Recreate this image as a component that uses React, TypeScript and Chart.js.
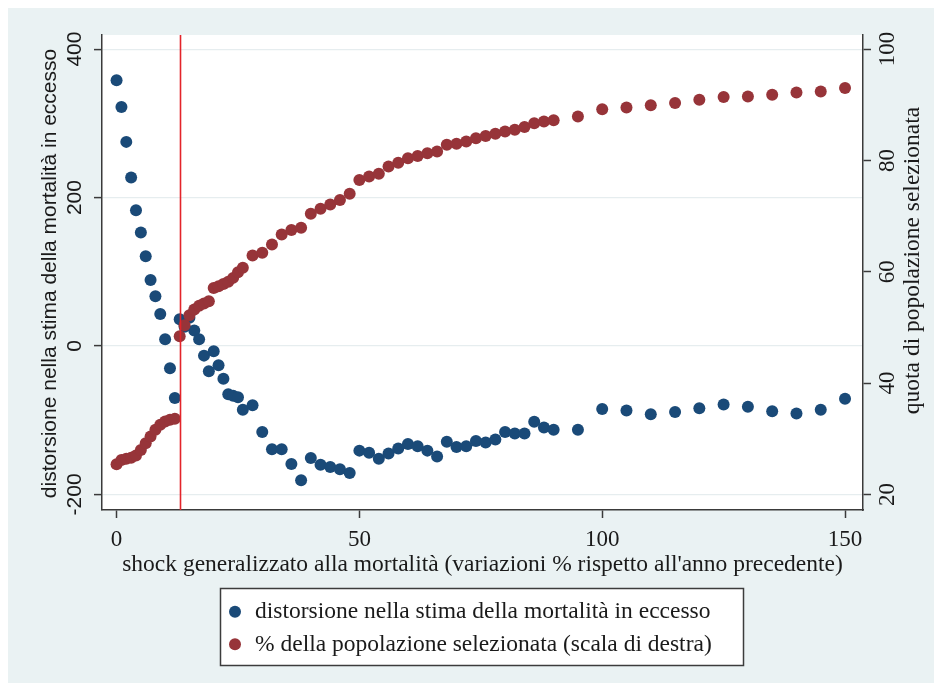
import React, { useEffect, useRef } from "react";
import { Chart, registerables } from "chart.js";

Chart.register(...registerables);

// ---------- data ----------
const shockValues = [
  0, 1, 2, 3, 4, 5, 6, 7, 8, 9, 10, 11, 12, 13, 14, 15, 16, 17, 18, 19, 20, 21, 22, 23, 24, 25, 26,
  28, 30, 32, 34, 36, 38, 40, 42, 44, 46, 48, 50, 52, 54, 56, 58, 60, 62, 64, 66, 68, 70, 72, 74, 76, 78, 80, 82, 84, 86, 88, 90,
  95, 100, 105, 110, 115, 120, 125, 130, 135, 140, 145, 150,
];

const distortionValues = [
  358, 322, 275, 227, 183, 153, 121, 89, 67, 43, 9, -30, -70, 36, 26, 38, 21, 9, -13, -34, -7, -26, -44, -65, -67, -69, -86,
  -80, -116, -139, -139, -159, -181, -151, -160, -163, -166, -171, -141, -144, -152, -145, -138, -132, -135, -141, -149, -129, -136, -135, -128, -130, -126, -116, -118, -118, -102, -110, -113,
  -113, -85, -87, -92, -89, -84, -79, -82, -88, -91, -86, -71,
];

const selectedShareValues = [
  25.4, 26.2, 26.4, 26.6, 27.0, 28.0, 29.2, 30.4, 31.6, 32.5, 33.1, 33.4, 33.6, 48.4, 50.4, 52.2, 53.2, 53.9, 54.3, 54.7, 57.1, 57.4, 57.8, 58.2, 58.9, 59.9, 60.7,
  62.9, 63.4, 64.9, 66.7, 67.5, 67.9, 70.4, 71.3, 72.1, 72.9, 74.0, 76.5, 77.1, 77.6, 78.9, 79.6, 80.4, 80.8, 81.3, 81.6, 82.8, 83.0, 83.4, 84.0, 84.4, 84.8, 85.2, 85.5, 86.0, 86.7, 87.0, 87.2,
  87.9, 89.2, 89.5, 89.9, 90.3, 90.9, 91.4, 91.5, 91.8, 92.2, 92.4, 93.0,
];

const xTicks = [0, 50, 100, 150];
const leftTicks = [-200, 0, 200, 400];
const rightTicks = [20, 40, 60, 80, 100];
const thresholdShock = 13;

const seriesLabels = [
  "distorsione nella stima della mortalità in eccesso",
  "% della popolazione selezionata (scala di destra)",
];
const xTitle = "shock generalizzato alla mortalità (variazioni % rispetto all'anno precedente)";
const leftTitle = "distorsione nella stima della mortalità in eccesso";
const rightTitle = "quota di popolazione selezionata";

// ---------- style ----------
const W = 926;
const H = 675;
const BG = "#eaf2f3";
const AXIS = "#3a3a3a";
const GRID = "#e6edef";
const BLUE = "#1a4a78";
const RED = "#973439";
const VLINE = "#e3242a";
const SERIF = '"Liberation Serif", "Times New Roman", serif';
const SANS = '"Liberation Sans", Arial, sans-serif';

const X_MIN = -3;
const X_MAX = 153.7;
const L_MIN = -221;
const L_MAX = 419;
const R_MIN = 20 + ((L_MIN + 200) * 80) / 600;
const R_MAX = 20 + ((L_MAX + 200) * 80) / 600;

const decorPlugin = {
  id: "decor",
  beforeDraw(chart: any) {
    const { ctx, chartArea: ca, width, height } = chart;
    ctx.save();
    ctx.fillStyle = BG;
    ctx.fillRect(0, 0, width, height);
    ctx.fillStyle = "#ffffff";
    ctx.fillRect(ca.left, ca.top, ca.right - ca.left, ca.bottom - ca.top);
    ctx.restore();
  },
  afterDatasetsDraw(chart: any) {
    const { ctx, chartArea: ca } = chart;
    const x = Math.round(chart.scales.x.getPixelForValue(thresholdShock)) + 0.5;
    ctx.save();
    ctx.strokeStyle = VLINE;
    ctx.lineWidth = 1.6;
    ctx.beginPath();
    ctx.moveTo(x, ca.top);
    ctx.lineTo(x, ca.bottom);
    ctx.stroke();
    ctx.restore();
  },
  afterDraw(chart: any) {
    const { ctx, chartArea: ca } = chart;
    const sx = chart.scales.x;
    const sy = chart.scales.y;
    const sy1 = chart.scales.y1;
    ctx.save();
    ctx.fillStyle = "#1a1a1a";

    // left tick labels (rotated, sans)
    ctx.font = `21px ${SANS}`;
    ctx.textAlign = "center";
    ctx.textBaseline = "middle";
    sy.ticks.forEach((t: any) => {
      const y = sy.getPixelForValue(t.value);
      ctx.save();
      ctx.translate(ca.left - 26.5, y);
      ctx.rotate(-Math.PI / 2);
      ctx.fillText(String(t.value), 0, 0);
      ctx.restore();
    });

    // left title
    ctx.save();
    ctx.translate(42.5, (ca.top + ca.bottom) / 2 + 1);
    ctx.rotate(-Math.PI / 2);
    ctx.fillText(leftTitle, 0, 0);
    ctx.restore();

    // right tick labels (rotated, serif)
    ctx.font = `23px ${SERIF}`;
    sy1.ticks.forEach((t: any) => {
      const y = sy1.getPixelForValue(t.value);
      ctx.save();
      ctx.translate(ca.right + 25, y);
      ctx.rotate(-Math.PI / 2);
      ctx.fillText(String(t.value), 0, 0);
      ctx.restore();
    });

    // right title
    ctx.font = `23.5px ${SERIF}`;
    ctx.save();
    ctx.translate(ca.right + 49.5, (ca.top + ca.bottom) / 2 - 12);
    ctx.rotate(-Math.PI / 2);
    ctx.fillText(rightTitle, 0, 0);
    ctx.restore();

    // x tick labels
    ctx.font = `23px ${SERIF}`;
    sx.ticks.forEach((t: any) => {
      const x = sx.getPixelForValue(t.value);
      ctx.fillText(String(t.value), x, ca.bottom + 30);
    });

    // x title
    ctx.font = `23.5px ${SERIF}`;
    ctx.textBaseline = "alphabetic";
    ctx.fillText(xTitle, (ca.left + ca.right) / 2, ca.bottom + 61);

    // legend box
    const bx = 212, by = 580, bw = 523, bh = 77;
    ctx.fillStyle = "#ffffff";
    ctx.fillRect(bx, by, bw, bh);
    ctx.strokeStyle = "#3c3c3c";
    ctx.lineWidth = 1.5;
    ctx.strokeRect(bx + 0.5, by + 0.5, bw, bh);
    const rows = [603.7, 636.2];
    chart.data.datasets.forEach((ds: any, i: number) => {
      const y = rows[i];
      ctx.fillStyle = ds.backgroundColor;
      ctx.beginPath();
      ctx.arc(bx + 15, y, 6, 0, Math.PI * 2);
      ctx.fill();
      ctx.fillStyle = "#1a1a1a";
      ctx.font = `23.5px ${SERIF}`;
      ctx.textAlign = "left";
      ctx.textBaseline = "middle";
      ctx.fillText(ds.label, bx + 35, y + 0.5);
    });

    ctx.restore();
  },
};

export default function App() {
  const ref = useRef<HTMLCanvasElement>(null);

  useEffect(() => {
    if (!ref.current) return;
    const blueData = shockValues.map((x, i) => ({ x, y: distortionValues[i] }));
    const redData = shockValues.map((x, i) => ({ x, y: selectedShareValues[i] }));

    const chart = new Chart(ref.current, {
      type: "scatter",
      data: {
        datasets: [
          {
            label: seriesLabels[0],
            data: blueData,
            yAxisID: "y",
            backgroundColor: BLUE,
            borderColor: BLUE,
            pointRadius: 6,
            pointBorderWidth: 0,
            order: 2,
          },
          {
            label: seriesLabels[1],
            data: redData,
            yAxisID: "y1",
            backgroundColor: RED,
            borderColor: RED,
            pointRadius: 6,
            pointBorderWidth: 0,
            order: 1,
          },
        ],
      },
      options: {
        responsive: false,
        animation: false,
        devicePixelRatio: 1,
        events: [],
        layout: { padding: { top: 27, left: 0, right: 0, bottom: 0 } },
        plugins: {
          legend: { display: false },
          tooltip: { enabled: false },
        },
        scales: {
          x: {
            type: "linear",
            position: "bottom",
            min: X_MIN,
            max: X_MAX,
            afterBuildTicks: (s: any) => {
              s.ticks = xTicks.map((v) => ({ value: v }));
            },
            afterFit: (s: any) => {
              s.height = H - 502;
            },
            ticks: { display: false },
            grid: {
              drawOnChartArea: false,
              drawTicks: true,
              tickLength: 8,
              tickColor: AXIS,
              tickWidth: 1.5,
            },
            border: { display: true, color: AXIS, width: 1.5 },
          },
          y: {
            type: "linear",
            position: "left",
            min: L_MIN,
            max: L_MAX,
            afterBuildTicks: (s: any) => {
              s.ticks = leftTicks.map((v) => ({ value: v }));
            },
            afterFit: (s: any) => {
              s.width = 94;
            },
            ticks: { display: false },
            grid: {
              color: GRID,
              lineWidth: 1.2,
              drawOnChartArea: true,
              drawTicks: true,
              tickLength: 8,
              tickColor: AXIS,
              tickWidth: 1.5,
            },
            border: { display: true, color: AXIS, width: 1.5 },
          },
          y1: {
            type: "linear",
            position: "right",
            min: R_MIN,
            max: R_MAX,
            afterBuildTicks: (s: any) => {
              s.ticks = rightTicks.map((v) => ({ value: v }));
            },
            afterFit: (s: any) => {
              s.width = W - 855;
            },
            ticks: { display: false },
            grid: {
              drawOnChartArea: false,
              drawTicks: true,
              tickLength: 8,
              tickColor: AXIS,
              tickWidth: 1.5,
            },
            border: { display: true, color: AXIS, width: 1.5 },
          },
        },
      },
      plugins: [decorPlugin],
    });

    return () => chart.destroy();
  }, []);

  return (
    <canvas
      ref={ref}
      width={W}
      height={H}
      style={{ display: "block", width: W, height: H }}
    />
  );
}
